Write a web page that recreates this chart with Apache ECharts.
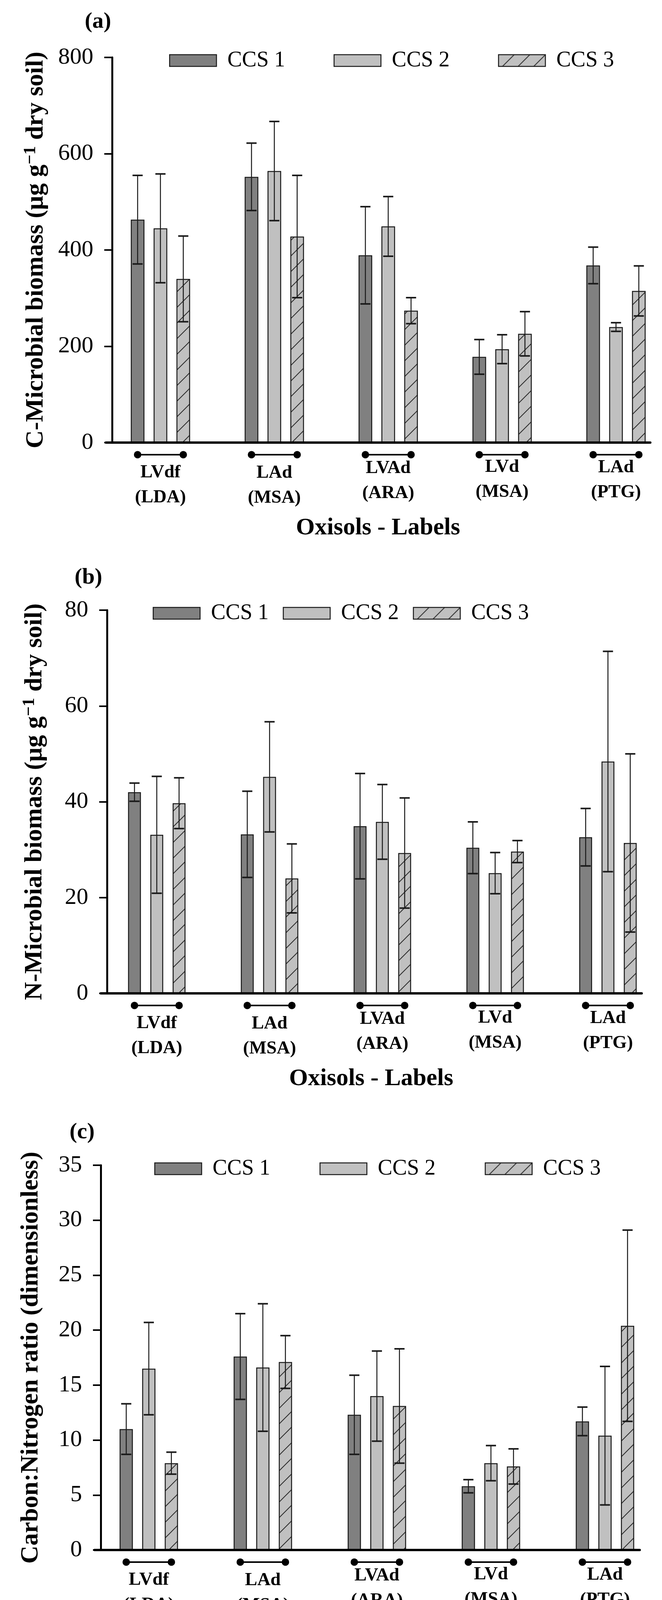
<!DOCTYPE html>
<html>
<head>
<meta charset="utf-8">
<title>Oxisols - microbial biomass and C:N ratio</title>
<script src="https://cdn.jsdelivr.net/npm/echarts@6/dist/echarts.min.js"></script>
<style>
  html, body { margin: 0; padding: 0; background: #fff; }
  #chart { width: 1695px; height: 4231px; }
</style>
</head>
<body>
<div id="chart"></div>
<script>
(function (echarts) {
  'use strict';

  var FONT = '"Liberation Serif", "DejaVu Serif", serif';

  var categories = ['LVdf\n(LDA)', 'LAd\n(MSA)', 'LVAd\n(ARA)', 'LVd\n(MSA)', 'LAd\n(PTG)'];
  var seriesNames = ['CCS 1', 'CCS 2', 'CCS 3'];

  // (a) C-microbial biomass, ug g-1 dry soil
  var carbonTicks = [0, 200, 400, 600, 800];
  var carbonCcs1 = [463, 552, 389, 178, 368];
  var carbonCcs2 = [445, 564, 449, 194, 240];
  var carbonCcs3 = [340, 428, 274, 226, 315];
  var carbonErr1 = [92, 70, 101, 36, 38];
  var carbonErr2 = [113, 103, 62, 30, 9];
  var carbonErr3 = [89, 127, 27, 46, 52];

  // (b) N-microbial biomass, ug g-1 dry soil
  var nitroTicks = [0, 20, 40, 60, 80];
  var nitroCcs1 = [42.0, 33.2, 34.9, 30.4, 32.6];
  var nitroCcs2 = [33.1, 45.2, 35.8, 25.1, 48.4];
  var nitroCcs3 = [39.7, 24.0, 29.3, 29.6, 31.4];
  var nitroErr1 = [1.9, 9.0, 11.0, 5.4, 6.0];
  var nitroErr2 = [12.2, 11.5, 7.8, 4.3, 23.0];
  var nitroErr3 = [5.3, 7.2, 11.5, 2.3, 18.6];

  // (c) Carbon:Nitrogen ratio
  var ratioTicks = [0, 5, 10, 15, 20, 25, 30, 35];
  var ratioCcs1 = [11.0, 17.6, 12.3, 5.8, 11.7];
  var ratioCcs2 = [16.5, 16.6, 14.0, 7.9, 10.4];
  var ratioCcs3 = [7.9, 17.1, 13.1, 7.6, 20.4];
  var ratioErr1 = [2.3, 3.9, 3.6, 0.6, 1.3];
  var ratioErr2 = [4.2, 5.8, 4.1, 1.6, 6.3];
  var ratioErr3 = [1.0, 2.4, 5.2, 1.6, 8.7];

  // the category labels do not sit on one line in the original
  var labelDrop = [14, 15, 3, 0, 1];

  function hatchTile(size, bg, ink) {
    var c = document.createElement('canvas');
    c.width = size;
    c.height = size;
    var ctx = c.getContext('2d');
    ctx.fillStyle = bg;
    ctx.fillRect(0, 0, size, size);
    ctx.strokeStyle = ink;
    ctx.lineWidth = 2;
    ctx.beginPath();
    ctx.moveTo(0, size); ctx.lineTo(size, 0);
    ctx.moveTo(-size / 2, size / 2); ctx.lineTo(size / 2, -size / 2);
    ctx.moveTo(size / 2, size * 1.5); ctx.lineTo(size * 1.5, size / 2);
    ctx.stroke();
    return c;
  }

  var fills = ['#808080', '#c0c0c0', { image: hatchTile(40, '#c0c0c0', '#2a2a2a'), repeat: 'repeat' }];
  var EDGE = '#1a1a1a';

  var panels = [
    {
      tag: '(a)', tagLeft: 217, tagTop: 27,
      name: '{t|C-Microbial biomass (μg g}{s|−1}{t| dry soil)}', nameGap: 160,
      ticks: carbonTicks, means: [carbonCcs1, carbonCcs2, carbonCcs3], errs: [carbonErr1, carbonErr2, carbonErr3],
      top: 147, height: 986, barLeft: 265, barSpan: 1458, axisLeft: 271, axisSpan: 1394,
      barW: 35, gap: 0.67, legendTop: 127, legendLeft: 433, legendGap: 124
    },
    {
      tag: '(b)', tagLeft: 191, tagTop: 1450,
      name: '{t|N-Microbial biomass (μg g}{s|−1}{t| dry soil)}', nameGap: 150,
      ticks: nitroTicks, means: [nitroCcs1, nitroCcs2, nitroCcs3], errs: [nitroErr1, nitroErr2, nitroErr3],
      top: 1562, height: 981, barLeft: 257, barSpan: 1444, axisLeft: 258, axisSpan: 1385,
      barW: 33, gap: 0.73, legendTop: 1542, legendLeft: 391, legendGap: 36
    },
    {
      tag: '(c)', tagLeft: 178, tagTop: 2870,
      name: '{t|Carbon:Nitrogen ratio (dimensionless)}', nameGap: 144,
      ticks: ratioTicks, means: [ratioCcs1, ratioCcs2, ratioCcs3], errs: [ratioErr1, ratioErr2, ratioErr3],
      top: 2983, height: 985, barLeft: 235, barSpan: 1460, axisLeft: 242, axisSpan: 1396,
      barW: 34, gap: 0.70, legendTop: 2964, legendLeft: 395, legendGap: 126
    }
  ];

  function errorBarRenderer(slot, step) {
    return function (params, api) {
      var lo = api.coord([api.value(0), api.value(1)]);
      var hi = api.coord([api.value(0), api.value(2)]);
      var x = lo[0] + (slot - 1) * step;
      var cap = 13;
      return {
        type: 'group',
        children: [
          { type: 'line', shape: { x1: x, y1: lo[1], x2: x, y2: hi[1] }, style: { stroke: EDGE, lineWidth: 2.5 } },
          { type: 'line', shape: { x1: x - cap, y1: hi[1], x2: x + cap, y2: hi[1] }, style: { stroke: EDGE, lineWidth: 4 } },
          { type: 'line', shape: { x1: x - cap, y1: lo[1], x2: x + cap, y2: lo[1] }, style: { stroke: EDGE, lineWidth: 4 } }
        ]
      };
    };
  }

  function bracketRenderer(step) {
    return function (params, api) {
      var c = api.coord([api.value(0), api.value(1)]);
      var y = c[1] + 31;
      return {
        type: 'group',
        children: [
          { type: 'line', shape: { x1: c[0] - step, y1: y, x2: c[0] + step, y2: y }, style: { stroke: '#000', lineWidth: 4 } },
          { type: 'circle', shape: { cx: c[0] - step, cy: y, r: 9.5 }, style: { fill: '#000' } },
          { type: 'circle', shape: { cx: c[0] + step, cy: y, r: 9.5 }, style: { fill: '#000' } }
        ]
      };
    };
  }

  var categoryItems = categories.map(function (c, i) {
    return { value: c, textStyle: { padding: [labelDrop[i], 0, 0, 0] } };
  });

  var option = {
    animation: false,
    backgroundColor: '#fff',
    textStyle: { fontFamily: FONT, color: '#000' },
    title: [], legend: [], grid: [], xAxis: [], yAxis: [], series: []
  };

  panels.forEach(function (p, pi) {
    var gBar = pi * 2;
    var gAxis = pi * 2 + 1;
    var min = p.ticks[0];
    var max = p.ticks[p.ticks.length - 1];
    var interval = p.ticks[1] - p.ticks[0];
    var step = p.barW * (1 + p.gap);

    option.title.push({
      text: p.tag, left: p.tagLeft, top: p.tagTop, padding: 0,
      textStyle: { fontFamily: FONT, fontSize: 58, fontWeight: 'bold', color: '#000' }
    });

    option.legend.push({
      data: seriesNames, left: p.legendLeft, top: p.legendTop, orient: 'horizontal',
      icon: 'rect', itemWidth: 120, itemHeight: 30, itemGap: p.legendGap, padding: 0,
      selectedMode: false,
      itemStyle: { borderColor: EDGE, borderWidth: 2.5 },
      textStyle: { fontFamily: FONT, fontSize: 56, lineHeight: 56, color: '#000', padding: [0, 0, 0, 23] }
    });

    option.grid.push(
      { left: p.barLeft, width: p.barSpan, top: p.top, height: p.height, containLabel: false, outerBoundsMode: 'none' },
      { left: p.axisLeft, width: p.axisSpan, top: p.top, height: p.height, containLabel: false, outerBoundsMode: 'none' }
    );

    option.xAxis.push(
      {
        gridIndex: gBar, type: 'category', data: categoryItems, boundaryGap: true,
        axisLine: { show: false }, axisTick: { show: false }, splitLine: { show: false },
        axisLabel: {
          interval: 0, margin: 31, color: '#000', fontFamily: FONT,
          fontSize: 47, fontWeight: 'bold', lineHeight: 64
        }
      },
      {
        gridIndex: gAxis, type: 'value', min: 0, max: 1, z: 3,
        axisLine: { show: true, lineStyle: { color: '#000', width: 6 } },
        axisTick: { show: false }, axisLabel: { show: false }, splitLine: { show: false },
        name: 'Oxisols - Labels', nameLocation: 'middle', nameGap: 188,
        nameTextStyle: { fontFamily: FONT, fontSize: 62, fontWeight: 'bold', color: '#000' }
      }
    );

    option.yAxis.push(
      { gridIndex: gBar, type: 'value', min: min, max: max, interval: interval, show: false },
      {
        gridIndex: gAxis, type: 'value', min: min, max: max, interval: interval,
        position: 'left', offset: -16, z: 3,
        axisLine: { show: true, onZero: false, lineStyle: { color: '#000', width: 5 } },
        axisTick: { show: true, length: 20, lineStyle: { color: '#000', width: 4 } },
        axisLabel: { color: '#000', fontFamily: FONT, fontSize: 60, margin: 48 },
        splitLine: { show: false },
        name: p.name, nameLocation: 'middle', nameGap: p.nameGap, nameRotate: 90,
        nameTextStyle: {
          fontFamily: FONT, fontSize: 64, fontWeight: 'bold', color: '#000',
          rich: {
            t: { fontFamily: FONT, fontSize: 64, fontWeight: 'bold', color: '#000', lineHeight: 70 },
            s: { fontFamily: FONT, fontSize: 44, fontWeight: 'bold', color: '#000', lineHeight: 40, verticalAlign: 'top' }
          }
        }
      }
    );

    p.means.forEach(function (vals, k) {
      option.series.push({
        name: seriesNames[k], type: 'bar', xAxisIndex: gBar, yAxisIndex: gBar,
        data: vals, barWidth: p.barW, barGap: Math.round(p.gap * 100) + '%',
        itemStyle: { color: fills[k], borderColor: EDGE, borderWidth: 2.5 },
        emphasis: { disabled: true }, silent: true
      });
    });

    p.means.forEach(function (vals, k) {
      option.series.push({
        name: 'err' + pi + k, type: 'custom', xAxisIndex: gBar, yAxisIndex: gBar, z: 4,
        silent: true, clip: false,
        encode: { x: 0, y: [1, 2] },
        data: vals.map(function (m, i) { return [i, m - p.errs[k][i], m + p.errs[k][i]]; }),
        renderItem: errorBarRenderer(k, step)
      });
    });

    option.series.push({
      name: 'bracket' + pi, type: 'custom', xAxisIndex: gBar, yAxisIndex: gBar,
      silent: true, clip: false,
      encode: { x: 0, y: 1 },
      data: categories.map(function (c, i) { return [i, min]; }),
      renderItem: bracketRenderer(step)
    });
  });

  var chart = echarts.init(document.getElementById('chart'), null, { renderer: 'canvas' });
  chart.setOption(option);
})(echarts);
</script>
</body>
</html>
